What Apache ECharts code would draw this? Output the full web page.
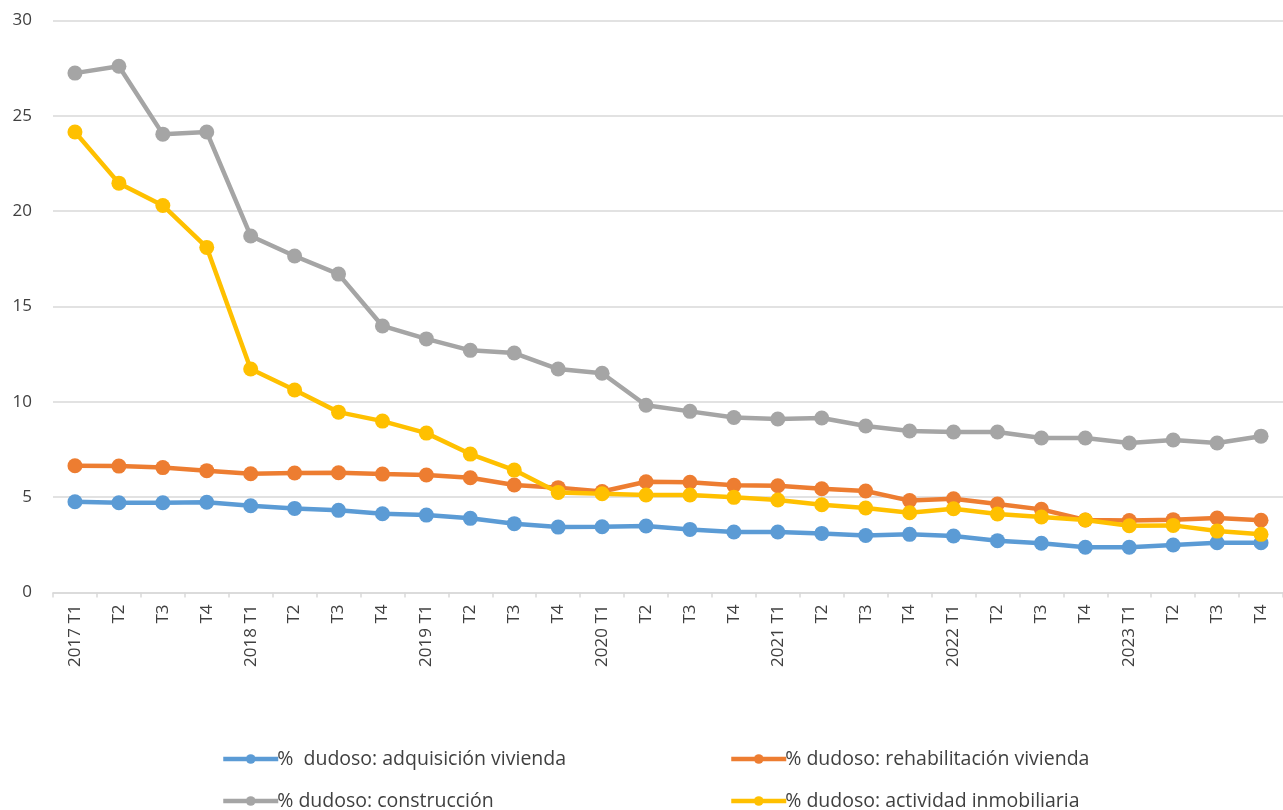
<!DOCTYPE html>
<html><head><meta charset="utf-8">
<script src="https://cdn.jsdelivr.net/npm/echarts@6/dist/echarts.min.js"></script>
<style>html,body{margin:0;padding:0;background:#fff}#c{width:1283px;height:810px}</style>
</head><body><div id="c"></div>
<script>
const categories = ["2017 T1","T2","T3","T4","2018 T1","T2","T3","T4","2019 T1","T2","T3","T4","2020 T1","T2","T3","T4","2021 T1","T2","T3","T4","2022 T1","T2","T3","T4","2023 T1","T2","T3","T4"];
const adquisicion = [4.76,4.71,4.71,4.73,4.55,4.41,4.31,4.13,4.06,3.89,3.61,3.43,3.45,3.49,3.31,3.17,3.17,3.10,2.99,3.05,2.96,2.72,2.58,2.37,2.37,2.49,2.61,2.61];
const rehabilitacion = [6.65,6.63,6.55,6.39,6.23,6.27,6.28,6.21,6.16,6.02,5.64,5.50,5.30,5.81,5.78,5.62,5.60,5.44,5.32,4.82,4.92,4.64,4.36,3.80,3.77,3.82,3.91,3.79];
const construccion = [27.24,27.6,24.04,24.15,18.7,17.65,16.7,13.98,13.3,12.7,12.56,11.72,11.5,9.82,9.5,9.18,9.1,9.15,8.73,8.47,8.42,8.42,8.1,8.1,7.84,8.0,7.84,8.2];
const actividad = [24.15,21.47,20.3,18.1,11.72,10.62,9.46,8.99,8.36,7.26,6.42,5.25,5.18,5.11,5.11,4.99,4.85,4.6,4.43,4.18,4.39,4.12,3.96,3.8,3.5,3.52,3.22,3.05];
const names = ["%  dudoso: adquisición vivienda","% dudoso: rehabilitación vivienda","% dudoso: construcción","% dudoso: actividad inmobiliaria"];
const colors = ["#5B9BD5","#ED7D31","#A5A5A5","#FFC000"];
const yTicks = {min:0,max:30,interval:5};

const font = "'Open Sans', 'Noto Sans', sans-serif";
function mk(name, data, color, z){
  return {name, type:'line', data, color, z,
    symbol:'circle', symbolSize:15,
    lineStyle:{width:4.5,color}, itemStyle:{color},
    emphasis:{disabled:true}, animation:false};
}
function lg(name, left, top){
  return {left, top, itemGap:0, itemWidth:55, itemHeight:12, data:[name],
    lineStyle:{width:4.5}, selectedMode:false,
    textStyle:{fontFamily:font,fontSize:19.5,color:'#404040',padding:[0,0,0,-6]}};
}
const chart = echarts.init(document.getElementById('c'));
chart.setOption({
  animation:false,
  grid:{left:53, top:20.5, width:1239, height:572},
  legend:[
    lg(names[0], 216, 744),
    lg(names[1], 724, 744),
    lg(names[2], 216, 786),
    lg(names[3], 724, 786)
  ],
  xAxis:{type:'category', data:categories, boundaryGap:true,
    axisLine:{lineStyle:{color:'#d9d9d9',width:1.5}},
    axisTick:{show:true, length:5, lineStyle:{color:'#d9d9d9',width:1.5}},
    axisLabel:{rotate:90, interval:0, margin:12, fontFamily:font, fontSize:17, color:'#404040'}},
  yAxis:{type:'value', min:yTicks.min, max:yTicks.max, interval:yTicks.interval,
    axisLine:{show:false}, axisTick:{show:false},
    splitLine:{lineStyle:{color:'#d9d9d9',width:1.5}},
    axisLabel:{margin:21, fontFamily:font, fontSize:17, color:'#404040'}},
  series:[
    mk(names[0], adquisicion, colors[0], 2),
    mk(names[1], rehabilitacion, colors[1], 3),
    mk(names[2], construccion, colors[2], 4),
    mk(names[3], actividad, colors[3], 5)
  ]
});
</script></body></html>
